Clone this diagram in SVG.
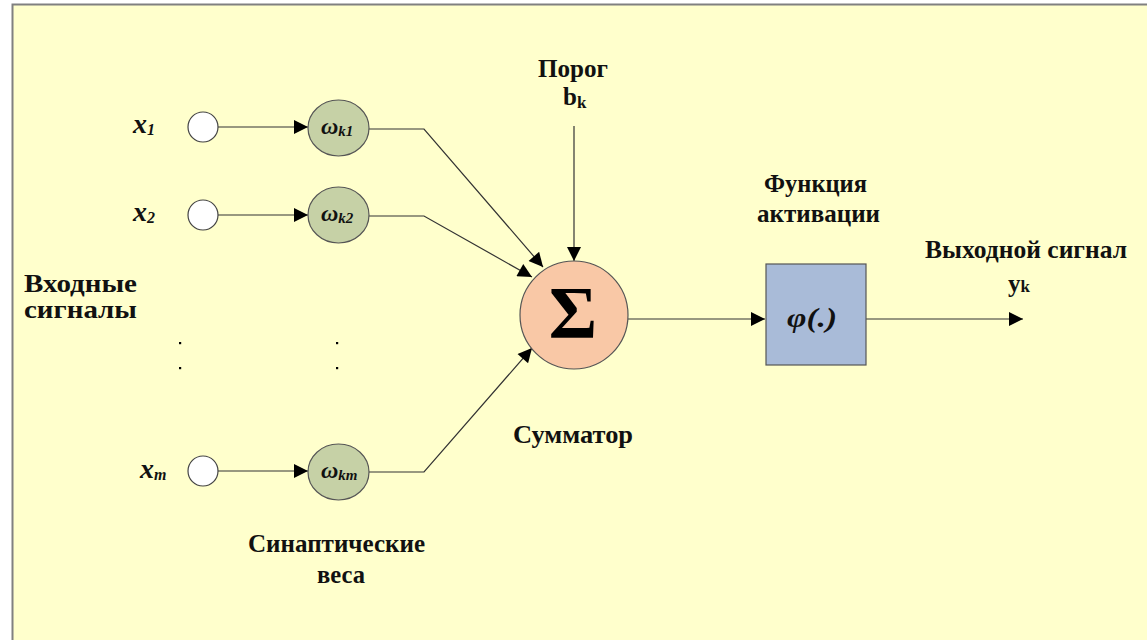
<svg xmlns="http://www.w3.org/2000/svg" width="1147" height="640" viewBox="0 0 1147 640">
  <style>
    .lbl { font-family: "Liberation Serif", "DejaVu Serif", serif; font-weight: bold; font-size: 25px; fill: #111; }
    .var { font-family: "Liberation Serif", "DejaVu Serif", serif; font-weight: bold; font-style: italic; fill: #111; }
    .wire { fill: none; stroke: #333; stroke-width: 1.2; }
    .in { fill: #ffffff; stroke: #444; stroke-width: 1.2; }
    .w { fill: #c6d1a6; stroke: #555; stroke-width: 1.2; }
  </style>
  <defs>
    <marker id="arr" viewBox="0 0 10 10" refX="10" refY="5" markerWidth="18" markerHeight="14" markerUnits="userSpaceOnUse" orient="auto">
      <path d="M0,0 L10,5 L0,10 Z" fill="#000"/>
    </marker>
  </defs>

  <!-- slide background -->
  <rect x="13" y="5" width="1140" height="640" fill="#ffffcc"/>
  <path d="M12.5,640 V4.5 H1147" fill="none" stroke="#808080" stroke-width="2"/>

  <!-- connectors -->
  <g id="connectors">
    <line class="wire" x1="218" y1="127" x2="308" y2="127" marker-end="url(#arr)"/>
    <line class="wire" x1="218" y1="215" x2="308" y2="215" marker-end="url(#arr)"/>
    <line class="wire" x1="218" y1="471" x2="308" y2="471" marker-end="url(#arr)"/>
    <polyline class="wire" points="369,129 424,129 543,267" marker-end="url(#arr)"/>
    <polyline class="wire" points="369,216 424,216 532,277" marker-end="url(#arr)"/>
    <polyline class="wire" points="369,472 424,472 532,348" marker-end="url(#arr)"/>
    <line class="wire" x1="574" y1="126" x2="574" y2="261" marker-end="url(#arr)"/>
    <line class="wire" x1="628" y1="319" x2="765" y2="319" marker-end="url(#arr)"/>
    <line class="wire" x1="866" y1="319" x2="1023" y2="319" marker-end="url(#arr)"/>
  </g>

  <!-- input signals -->
  <g id="input-x1">
    <circle class="in" cx="203" cy="127" r="15"/>
    <text class="var" x="133" y="133" font-size="28">x<tspan font-size="16" dy="2">1</tspan></text>
  </g>
  <g id="input-x2">
    <circle class="in" cx="203" cy="215" r="15"/>
    <text class="var" x="133" y="221" font-size="28">x<tspan font-size="16" dy="2">2</tspan></text>
  </g>
  <g id="input-xm">
    <circle class="in" cx="203" cy="471" r="15"/>
    <text class="var" x="140" y="478" font-size="28">x<tspan font-size="16" dy="2">m</tspan></text>
  </g>
  <g id="inputs-label">
    <text class="lbl" x="24" y="292" textLength="113" lengthAdjust="spacingAndGlyphs">Входные</text>
    <text class="lbl" x="24" y="318" textLength="113" lengthAdjust="spacingAndGlyphs">сигналы</text>
    <rect x="179" y="342" width="2.2" height="2.2" fill="#000"/>
    <rect x="179" y="367" width="2.2" height="2.2" fill="#000"/>
  </g>

  <!-- synaptic weights -->
  <g id="weight-k1">
    <ellipse class="w" cx="338.5" cy="128" rx="30.5" ry="28"/>
    <text class="var" x="321" y="134" font-size="24">ω<tspan font-size="15" dy="2">k1</tspan></text>
  </g>
  <g id="weight-k2">
    <ellipse class="w" cx="338.5" cy="215" rx="30.5" ry="28"/>
    <text class="var" x="321" y="221" font-size="24">ω<tspan font-size="15" dy="2">k2</tspan></text>
  </g>
  <g id="weight-km">
    <ellipse class="w" cx="338.5" cy="472" rx="30.5" ry="28"/>
    <text class="var" x="321" y="478" font-size="24">ω<tspan font-size="15" dy="2">km</tspan></text>
  </g>
  <g id="weights-label">
    <rect x="336" y="342" width="2.2" height="2.2" fill="#000"/>
    <rect x="336" y="367" width="2.2" height="2.2" fill="#000"/>
    <text class="lbl" x="248" y="552" textLength="177" lengthAdjust="spacingAndGlyphs">Синаптические</text>
    <text class="lbl" x="317" y="583" textLength="48" lengthAdjust="spacingAndGlyphs">веса</text>
  </g>

  <!-- threshold -->
  <g id="threshold">
    <text class="lbl" x="538" y="77" textLength="70" lengthAdjust="spacingAndGlyphs">Порог</text>
    <text class="lbl" x="563" y="105">b<tspan font-size="17" dy="3">k</tspan></text>
  </g>

  <!-- summing junction -->
  <g id="summator">
    <circle cx="574" cy="315" r="54" fill="#f9c8a6" stroke="#555" stroke-width="1.2"/>
    <text x="573" y="338" text-anchor="middle" font-family="Liberation Serif, DejaVu Serif, serif" font-weight="bold" font-size="74" fill="#000">Σ</text>
    <text class="lbl" x="513" y="443" textLength="120" lengthAdjust="spacingAndGlyphs">Сумматор</text>
  </g>

  <!-- activation function -->
  <g id="activation">
    <text class="lbl" x="764" y="192" textLength="103" lengthAdjust="spacingAndGlyphs">Функция</text>
    <text class="lbl" x="757" y="222" textLength="123" lengthAdjust="spacingAndGlyphs">активации</text>
    <rect x="766" y="264" width="100" height="101" fill="#a9bbd8" stroke="#555" stroke-width="1.2"/>
    <text class="var" x="787" y="327" font-size="28" textLength="50" lengthAdjust="spacingAndGlyphs">φ(.)</text>
  </g>

  <!-- output -->
  <g id="output">
    <text class="lbl" x="925" y="258" textLength="202" lengthAdjust="spacingAndGlyphs">Выходной сигнал</text>
    <text class="lbl" x="1008" y="292">y<tspan font-size="17" dy="0">k</tspan></text>
  </g>
</svg>
